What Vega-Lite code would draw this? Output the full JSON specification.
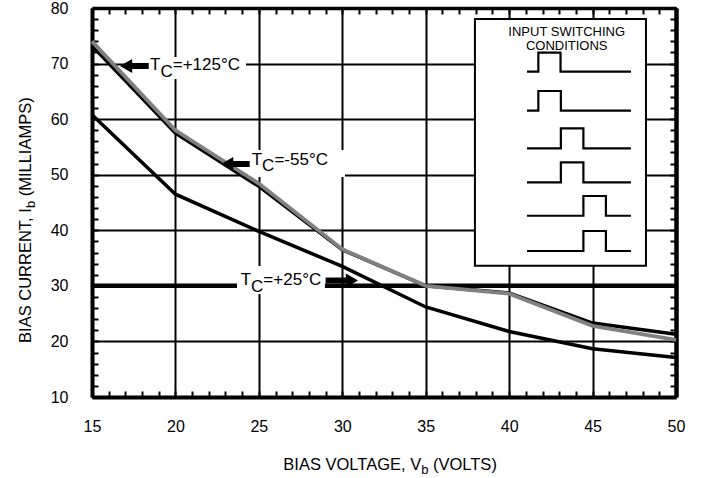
{
  "$schema": "https://vega.github.io/schema/vega-lite/v6.json",
  "width": 584,
  "height": 389,
  "autosize": {"type": "none"},
  "padding": {"left": 92, "top": 8, "right": 25, "bottom": 81},
  "background": "white",
  "config": {
    "view": {"stroke": null},
    "font": "Liberation Sans",
    "axis": {"labelColor": "black", "labelFont": "Liberation Sans", "labelFontSize": 16}
  },
  "datasets": {
    "curves": [
      {"series": "+25°C", "x": 15, "y": 60.8}, {"series": "+25°C", "x": 20, "y": 46.5}, {"series": "+25°C", "x": 25, "y": 39.8}, {"series": "+25°C", "x": 30, "y": 33.5}, {"series": "+25°C", "x": 35, "y": 26.2}, {"series": "+25°C", "x": 40, "y": 21.8}, {"series": "+25°C", "x": 45, "y": 18.7}, {"series": "+25°C", "x": 50, "y": 17.1},
      {"series": "-55°C", "x": 15, "y": 73.2}, {"series": "-55°C", "x": 20, "y": 57.5}, {"series": "-55°C", "x": 25, "y": 47.9}, {"series": "-55°C", "x": 30, "y": 36.5}, {"series": "-55°C", "x": 35, "y": 30}, {"series": "-55°C", "x": 40, "y": 28.7}, {"series": "-55°C", "x": 45, "y": 23.3}, {"series": "-55°C", "x": 50, "y": 21.3},
      {"series": "+125°C", "x": 15, "y": 74}, {"series": "+125°C", "x": 20, "y": 58}, {"series": "+125°C", "x": 25, "y": 48.4}, {"series": "+125°C", "x": 30, "y": 36.6}, {"series": "+125°C", "x": 35, "y": 30}, {"series": "+125°C", "x": 40, "y": 28.6}, {"series": "+125°C", "x": 45, "y": 22.8}, {"series": "+125°C", "x": 50, "y": 20.3}
    ],
    "hline": [{"x": 15, "x2": 50, "y": 30}],
    "boxes": [
      {"x": 18.36, "x2": 24.23, "y": 67.22, "y2": 71.18},
      {"x": 24.35, "x2": 30.16, "y": 49.59, "y2": 54.45},
      {"x": 23.69, "x2": 28.96, "y": 28.53, "y2": 33.57}
    ],
    "legendbox": [{"x": 37.95, "x2": 48.2, "y": 33.6, "y2": 78}],
    "waves": [
      {"w": 1, "i": 0, "x": 41.07, "y": 68.54}, {"w": 1, "i": 1, "x": 41.75, "y": 68.54}, {"w": 1, "i": 2, "x": 41.75, "y": 71.96}, {"w": 1, "i": 3, "x": 43.08, "y": 71.96}, {"w": 1, "i": 4, "x": 43.08, "y": 68.54}, {"w": 1, "i": 5, "x": 47.3, "y": 68.54},
      {"w": 2, "i": 0, "x": 41.07, "y": 61.52}, {"w": 2, "i": 1, "x": 41.75, "y": 61.52}, {"w": 2, "i": 2, "x": 41.75, "y": 65.06}, {"w": 2, "i": 3, "x": 43.1, "y": 65.06}, {"w": 2, "i": 4, "x": 43.1, "y": 61.52}, {"w": 2, "i": 5, "x": 47.3, "y": 61.52},
      {"w": 3, "i": 0, "x": 41.07, "y": 54.75}, {"w": 3, "i": 1, "x": 43.1, "y": 54.75}, {"w": 3, "i": 2, "x": 43.1, "y": 58.35}, {"w": 3, "i": 3, "x": 44.45, "y": 58.35}, {"w": 3, "i": 4, "x": 44.45, "y": 54.75}, {"w": 3, "i": 5, "x": 47.3, "y": 54.75},
      {"w": 4, "i": 0, "x": 41.07, "y": 48.63}, {"w": 4, "i": 1, "x": 43.1, "y": 48.63}, {"w": 4, "i": 2, "x": 43.1, "y": 52.23}, {"w": 4, "i": 3, "x": 44.45, "y": 52.23}, {"w": 4, "i": 4, "x": 44.45, "y": 48.63}, {"w": 4, "i": 5, "x": 47.3, "y": 48.63},
      {"w": 5, "i": 0, "x": 41.07, "y": 42.62}, {"w": 5, "i": 1, "x": 44.45, "y": 42.62}, {"w": 5, "i": 2, "x": 44.45, "y": 46.17}, {"w": 5, "i": 3, "x": 45.8, "y": 46.17}, {"w": 5, "i": 4, "x": 45.8, "y": 42.62}, {"w": 5, "i": 5, "x": 47.3, "y": 42.62},
      {"w": 6, "i": 0, "x": 41.07, "y": 36.27}, {"w": 6, "i": 1, "x": 44.45, "y": 36.27}, {"w": 6, "i": 2, "x": 44.45, "y": 39.87}, {"w": 6, "i": 3, "x": 45.8, "y": 39.87}, {"w": 6, "i": 4, "x": 45.8, "y": 36.27}, {"w": 6, "i": 5, "x": 47.3, "y": 36.27}
    ],
    "ltitle": [
      {"x": 43.45, "y": 75.02, "t": "INPUT SWITCHING"},
      {"x": 43.45, "y": 72.44, "t": "CONDITIONS"}
    ],
    "shafts": [
      {"x": 17.3, "x2": 18.4, "y": 69.56},
      {"x": 23.3, "x2": 24.45, "y": 51.93},
      {"x": 29.0, "x2": 30.3, "y": 30.96}
    ],
    "heads": [
      {"x": 17.04, "y": 69.56, "dir": "left"},
      {"x": 23.1, "y": 51.93, "dir": "left"},
      {"x": 30.58, "y": 30.96, "dir": "right"}
    ],
    "ann": [
      {"x": 18.48, "y": 68.84, "t": "T", "c": "C", "r": "=+125°C"},
      {"x": 24.57, "y": 51.75, "t": "T", "c": "C", "r": "=-55°C"},
      {"x": 23.91, "y": 30.15, "t": "T", "c": "C", "r": "=+25°C"}
    ],
    "xt": [{"x": 34.73, "y": -3.14, "a": "BIAS VOLTAGE, V", "b": "b", "c": "(VOLTS)"}],
    "yt": [{"x": 11.34, "y": 43.99, "a": "BIAS CURRENT, I", "b": "b", "c": "(MILLIAMPS)"}]
  },
  "encoding": {
    "x": {"field": "x", "type": "quantitative", "scale": {"domain": [15, 50], "nice": false, "zero": false}, "axis": null},
    "y": {"field": "y", "type": "quantitative", "scale": {"domain": [10, 80], "nice": false, "zero": false}, "axis": null}
  },
  "layer": [
    {
      "data": {"name": "hline"},
      "mark": {"type": "rule", "color": "black", "strokeWidth": 4.5},
      "encoding": {"x2": {"field": "x2"}}
    },
    {
      "data": {"name": "boxes"},
      "mark": {"type": "rect", "fill": "white", "strokeWidth": 0},
      "encoding": {"x2": {"field": "x2"}, "y2": {"field": "y2"}}
    },
    {
      "data": {"name": "curves"},
      "transform": [{"filter": "datum.series !== '+125°C'"}],
      "mark": {"type": "line", "color": "black", "strokeWidth": 3.5},
      "encoding": {
        "x": {"field": "x", "type": "quantitative", "scale": {"domain": [15, 50], "nice": false, "zero": false},
          "axis": {"orient": "bottom", "title": null,
            "values": [15,16,17,18,19,20,21,22,23,24,25,26,27,28,29,30,31,32,33,34,35,36,37,38,39,40,41,42,43,44,45,46,47,48,49,50],
            "labelExpr": "datum.value % 5 === 0 ? datum.label : ''",
            "labelFlush": false, "labelOverlap": false, "labelPadding": 27,
            "grid": true, "gridColor": "black", "gridWidth": 2,
            "gridOpacity": {"condition": {"test": "datum.value % 5 === 0", "value": 1}, "value": 0},
            "ticks": true, "tickSize": -6, "tickWidth": 2, "tickColor": "black",
            "domain": true, "domainColor": "black", "domainWidth": 4}},
        "y": {"field": "y", "type": "quantitative", "scale": {"domain": [10, 80], "nice": false, "zero": false},
          "axis": {"orient": "left", "title": null,
            "values": [10,12,14,16,18,20,22,24,26,28,30,32,34,36,38,40,42,44,46,48,50,52,54,56,58,60,62,64,66,68,70,72,74,76,78,80],
            "labelExpr": "datum.value % 10 === 0 ? datum.label : ''",
            "labelFlush": false, "labelOverlap": false, "labelPadding": 30,
            "grid": true, "gridColor": "black", "gridWidth": 2,
            "gridOpacity": {"condition": {"test": "datum.value % 10 === 0", "value": 1}, "value": 0},
            "ticks": true, "tickSize": -6, "tickWidth": 2, "tickColor": "black",
            "domain": true, "domainColor": "black", "domainWidth": 4}},
        "detail": {"field": "series"}
      }
    },
    {
      "data": {"name": "curves"},
      "transform": [{"filter": "datum.series === '+125°C'"}],
      "mark": {"type": "line", "color": "#808080", "strokeWidth": 3.8},
      "encoding": {"detail": {"field": "series"}}
    },
    {
      "data": {"name": "legendbox"},
      "mark": {"type": "rect", "fill": "white", "stroke": "black", "strokeWidth": 2},
      "encoding": {
        "x": {"field": "x", "type": "quantitative", "scale": {"domain": [15, 50], "nice": false, "zero": false},
          "axis": {"orient": "top", "title": null, "labels": false, "grid": false,
            "values": [15,16,17,18,19,20,21,22,23,24,25,26,27,28,29,30,31,32,33,34,35,36,37,38,39,40,41,42,43,44,45,46,47,48,49,50],
            "ticks": true, "tickSize": -6, "tickWidth": 2, "tickColor": "black",
            "domain": true, "domainColor": "black", "domainWidth": 3.5}},
        "y": {"field": "y", "type": "quantitative", "scale": {"domain": [10, 80], "nice": false, "zero": false},
          "axis": {"orient": "right", "title": null, "labels": false, "grid": false,
            "values": [10,12,14,16,18,20,22,24,26,28,30,32,34,36,38,40,42,44,46,48,50,52,54,56,58,60,62,64,66,68,70,72,74,76,78,80],
            "ticks": true, "tickSize": -6, "tickWidth": 2, "tickColor": "black",
            "domain": true, "domainColor": "black", "domainWidth": 4.5}},
        "x2": {"field": "x2"},
        "y2": {"field": "y2"}
      }
    },
    {
      "data": {"name": "waves"},
      "mark": {"type": "line", "color": "black", "strokeWidth": 2.2},
      "encoding": {"detail": {"field": "w"}, "order": {"field": "i", "type": "quantitative"}}
    },
    {
      "data": {"name": "ltitle"},
      "mark": {"type": "text", "align": "center", "baseline": "alphabetic", "fontSize": 13, "color": "black"},
      "encoding": {"text": {"field": "t"}}
    },
    {
      "data": {"name": "shafts"},
      "mark": {"type": "rule", "color": "black", "strokeWidth": 6},
      "encoding": {"x2": {"field": "x2"}}
    },
    {
      "data": {"name": "heads"},
      "mark": {"type": "point", "filled": true, "color": "black", "opacity": 1, "size": 200, "strokeWidth": 0},
      "encoding": {"shape": {"field": "dir", "type": "nominal", "scale": {"domain": ["left", "right"], "range": ["triangle-left", "triangle-right"]}, "legend": null}}
    },
    {
      "data": {"name": "ann"},
      "mark": {"type": "text", "align": "left", "baseline": "alphabetic", "fontSize": 17, "color": "black"},
      "encoding": {"text": {"field": "t"}}
    },
    {
      "data": {"name": "ann"},
      "mark": {"type": "text", "align": "left", "baseline": "alphabetic", "fontSize": 17, "color": "black", "dx": 10.4, "dy": 6.5},
      "encoding": {"text": {"field": "c"}}
    },
    {
      "data": {"name": "ann"},
      "mark": {"type": "text", "align": "left", "baseline": "alphabetic", "fontSize": 17, "color": "black", "dx": 22.7},
      "encoding": {"text": {"field": "r"}}
    },
    {
      "data": {"name": "xt"},
      "mark": {"type": "text", "align": "right", "baseline": "alphabetic", "fontSize": 16.5, "color": "black"},
      "encoding": {"text": {"field": "a"}}
    },
    {
      "data": {"name": "xt"},
      "mark": {"type": "text", "align": "left", "baseline": "alphabetic", "fontSize": 13, "color": "black", "dy": 4},
      "encoding": {"text": {"field": "b"}}
    },
    {
      "data": {"name": "xt"},
      "mark": {"type": "text", "align": "left", "baseline": "alphabetic", "fontSize": 16.5, "color": "black", "dx": 11.8},
      "encoding": {"text": {"field": "c"}}
    },
    {
      "data": {"name": "yt"},
      "mark": {"type": "text", "align": "right", "baseline": "alphabetic", "fontSize": 16.5, "color": "black", "angle": 270},
      "encoding": {"text": {"field": "a"}}
    },
    {
      "data": {"name": "yt"},
      "mark": {"type": "text", "align": "left", "baseline": "alphabetic", "fontSize": 13, "color": "black", "angle": 270, "dy": 4},
      "encoding": {"text": {"field": "b"}}
    },
    {
      "data": {"name": "yt"},
      "mark": {"type": "text", "align": "left", "baseline": "alphabetic", "fontSize": 16.5, "color": "black", "angle": 270, "dx": 11.8},
      "encoding": {"text": {"field": "c"}}
    }
  ],
  "resolve": {"axis": {"x": "independent", "y": "independent"}}
}
